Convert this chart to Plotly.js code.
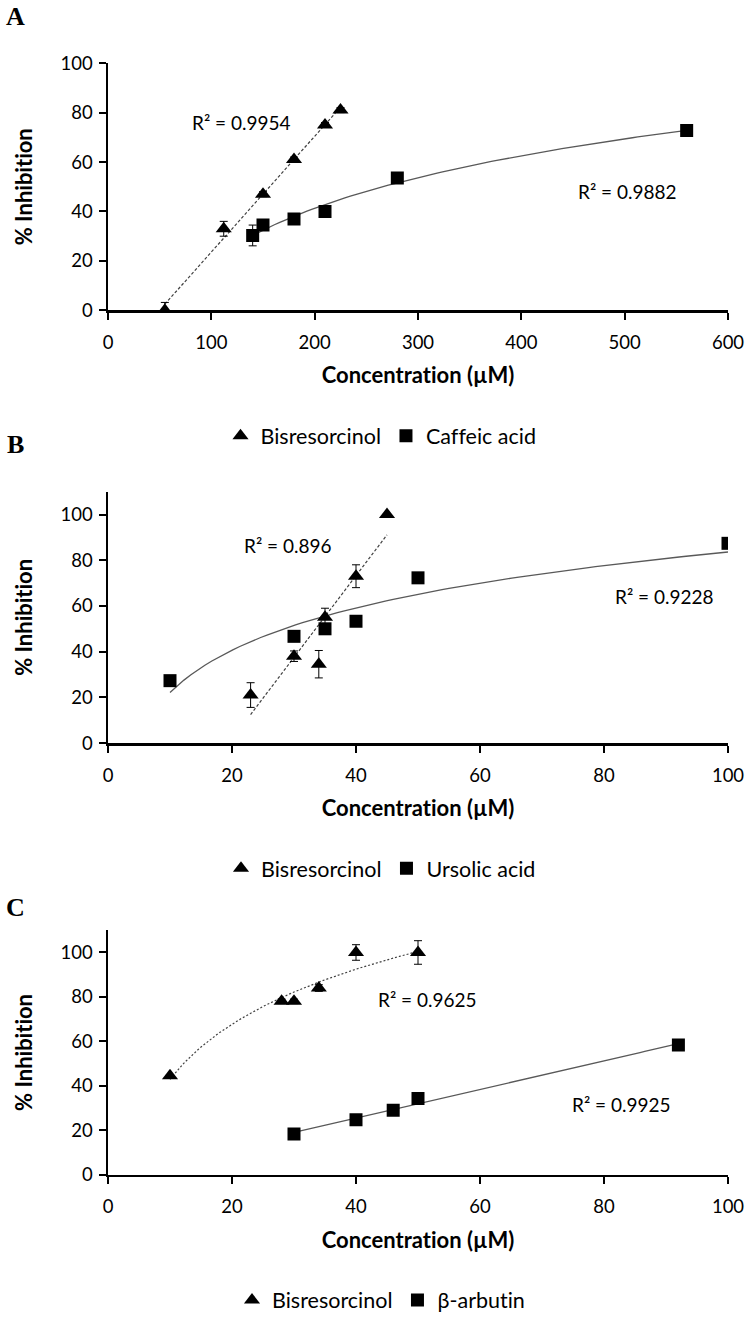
<!DOCTYPE html>
<html>
<head>
<meta charset="utf-8">
<script src="https://cdn.plot.ly/plotly-3.0.1.min.js"></script>
<style>
html,body{margin:0;padding:0;background:#fff;}
#chart{width:750px;height:1321px;}
svg text{font-variant-ligatures:none;font-feature-settings:"liga" 0;}
</style>
</head>
<body>
<div id="chart"></div>
<script>
// ---------- Data ----------
// Panel A
const aBisX = [55, 112, 150, 180, 210, 225];
const aBisY = [0, 33, 47, 61, 75, 81];
const aBisErr = [3.2, 3, 1, 1, 1, 1];
const aCafX = [140, 150, 180, 210, 280, 560];
const aCafY = [30.3, 34.5, 37, 40, 53.5, 72.8];
const aCafErr = [4.2, 1, 1, 1, 1, 1];
// Panel B
const bBisX = [23, 30, 34, 35, 40, 45];
const bBisY = [21, 38, 34.5, 55, 73, 100];
const bBisErr = [5.4, 2.3, 6, 4, 5, 0];
const bUrsX = [10, 30, 35, 40, 50, 100];
const bUrsY = [27.3, 46.7, 50, 53.3, 72.3, 87.4];
const bUrsErr = [0, 0, 0, 0, 0, 0];
// Panel C
const cBisX = [10, 28, 30, 34, 40, 50];
const cBisY = [44.5, 78, 78, 84, 100, 100];
const cBisErr = [0, 1, 1, 1.5, 3.5, 5.3];
const cArbX = [30, 40, 46, 50, 92];
const cArbY = [18.3, 24.7, 29, 34.3, 58.4];
const cArbErr = [0, 0, 0, 0, 0];

// Series names, R² labels, tick labels
const panelLetters = ['A', 'B', 'C'];
const namesA = ['Bisresorcinol', 'Caffeic acid'];
const namesB = ['Bisresorcinol', 'Ursolic acid'];
const namesC = ['Bisresorcinol', 'β-arbutin'];
const r2A = ['R² = 0.9954', 'R² = 0.9882'];
const r2B = ['R² = 0.896', 'R² = 0.9228'];
const r2C = ['R² = 0.9625', 'R² = 0.9925'];
const yTickVals = [0, 20, 40, 60, 80, 100];
const xTitle = 'Concentration (µM)';
const yTitle = '% Inhibition';

// ---------- Trendline fitting (least squares, as Excel does) ----------
function fit(xs, ys, kind) {
  const tx = xs.map(v => kind === 'log' ? Math.log(v) : v);
  const n = xs.length;
  const mx = tx.reduce((a, b) => a + b, 0) / n;
  const my = ys.reduce((a, b) => a + b, 0) / n;
  let sxy = 0, sxx = 0;
  for (let i = 0; i < n; i++) { sxy += (tx[i] - mx) * (ys[i] - my); sxx += (tx[i] - mx) ** 2; }
  const a = sxy / sxx, b = my - a * mx;
  const lo = Math.min(...xs), hi = Math.max(...xs);
  const fx = [], fy = [];
  for (let k = 0; k <= 80; k++) {
    const x = lo + (hi - lo) * k / 80;
    fx.push(x);
    fy.push(a * (kind === 'log' ? Math.log(x) : x) + b);
  }
  return {x: fx, y: fy};
}

const FONT = 'Lato, "Open Sans", sans-serif';
const triMarker = {symbol: 'triangle-up', size: 14, color: '#000'};
const sqMarker = {symbol: 'square', size: 13, color: '#000'};
function err(arr) { return {type: 'data', array: arr, visible: true, color: '#000', thickness: 1, width: 4}; }

function panel(idx, bx, by, be, sx, sy, se, names, bisKind, sqKind, bisDash) {
  const sfx = idx === 1 ? '' : String(idx);
  const xa = 'x' + sfx, ya = 'y' + sfx, lg = 'legend' + sfx;
  const tb = fit(bx, by, bisKind), ts = fit(sx, sy, sqKind);
  return [
    {x: tb.x, y: tb.y, xaxis: xa, yaxis: ya, mode: 'lines', showlegend: false, hoverinfo: 'skip',
     line: {color: '#404040', width: 1.2, dash: bisDash}},
    {x: ts.x, y: ts.y, xaxis: xa, yaxis: ya, mode: 'lines', showlegend: false, hoverinfo: 'skip',
     line: {color: '#595959', width: 1.3}},
    {x: bx, y: by, error_y: err(be), xaxis: xa, yaxis: ya, mode: 'markers', name: names[0], legend: lg, marker: triMarker},
    {x: sx, y: sy, error_y: err(se), xaxis: xa, yaxis: ya, mode: 'markers', name: names[1], legend: lg, marker: sqMarker}
  ];
}

const data = [].concat(
  panel(1, aBisX, aBisY, aBisErr, aCafX, aCafY, aCafErr, namesA, 'linear', 'log', '3px,2px'),
  panel(2, bBisX, bBisY, bBisErr, bUrsX, bUrsY, bUrsErr, namesB, 'linear', 'log', '3px,2px'),
  panel(3, cBisX, cBisY, cBisErr, cArbX, cArbY, cArbErr, namesC, 'log', 'linear', '2px,2px')
);

const W = 750, H = 1321;
const xDom = [108 / W, 728 / W];
function xAxis(range, dtick, anchor) {
  return {domain: xDom, range: range, dtick: dtick, tick0: 0, anchor: anchor,
    showline: true, linecolor: '#000', linewidth: 2.5, ticks: 'outside', ticklen: 7, tickwidth: 2, tickcolor: '#000',
    showgrid: false, zeroline: false, ticklabelstandoff: 7,
    tickfont: {family: FONT, size: 18.5, color: '#000'},
    title: {text: xTitle, font: {family: FONT, size: 22, color: '#000', weight: 'bold'}, standoff: 16}};
}
function yAxis(range, pxBottom, pxTop, anchor) {
  return {domain: [1 - pxBottom / H, 1 - pxTop / H], range: range, tickvals: yTickVals, anchor: anchor,
    showline: true, linecolor: '#000', linewidth: 2.5, ticks: 'outside', ticklen: 7, tickwidth: 2, tickcolor: '#000',
    showgrid: false, zeroline: false, ticklabelstandoff: 2,
    tickfont: {family: FONT, size: 18.5, color: '#000'},
    title: {text: yTitle, font: {family: FONT, size: 22, color: '#000', weight: 'bold'}, standoff: 22}};
}
function legend(yPx) {
  return {orientation: 'h', x: 0.508, xanchor: 'center', y: 1 - yPx / H, yanchor: 'middle',
    bgcolor: 'rgba(0,0,0,0)', font: {family: FONT, size: 21.5, color: '#000'}, itemwidth: 30, traceorder: 'normal'};
}
function r2(text, x, y, sfx) {
  return {text: text, x: x, y: y, xref: 'x' + sfx, yref: 'y' + sfx, showarrow: false,
    font: {family: FONT, size: 19, color: '#000'}};
}
function letter(t, yPx) {
  return {text: '<b>' + t + '</b>', x: 15 / W, y: 1 - yPx / H, xref: 'paper', yref: 'paper', xanchor: 'center', yanchor: 'middle',
    showarrow: false, font: {family: '"Liberation Serif", "DejaVu Serif", serif', size: 26, color: '#000'}};
}

const layout = {
  width: W, height: H, margin: {l: 0, r: 0, t: 0, b: 0},
  paper_bgcolor: '#fff', plot_bgcolor: '#fff', showlegend: true,
  font: {family: FONT, color: '#000'},
  xaxis: xAxis([0, 600], 100, 'y'),
  yaxis: yAxis([0, 100], 312, 63.5, 'x'),
  xaxis2: xAxis([0, 100], 20, 'y2'),
  yaxis2: yAxis([0, 110], 747, 494.3, 'x2'),
  xaxis3: xAxis([0, 100], 20, 'y3'),
  yaxis3: yAxis([0, 110], 1181, 935.2, 'x3'),
  legend: legend(438),
  legend2: legend(873),
  legend3: legend(1307),
  annotations: [
    letter(panelLetters[0], 17), letter(panelLetters[1], 447), letter(panelLetters[2], 912),
    r2(r2A[0], 129, 76, ''), r2(r2A[1], 503, 48, ''),
    r2(r2B[0], 29, 86.5, '2'), r2(r2B[1], 89.8, 64, '2'),
    r2(r2C[0], 51.6, 79, '3'), r2(r2C[1], 82.8, 31.4, '3')
  ]
};

Plotly.newPlot('chart', data, layout, {staticPlot: true, displayModeBar: false});
</script>
</body>
</html>
